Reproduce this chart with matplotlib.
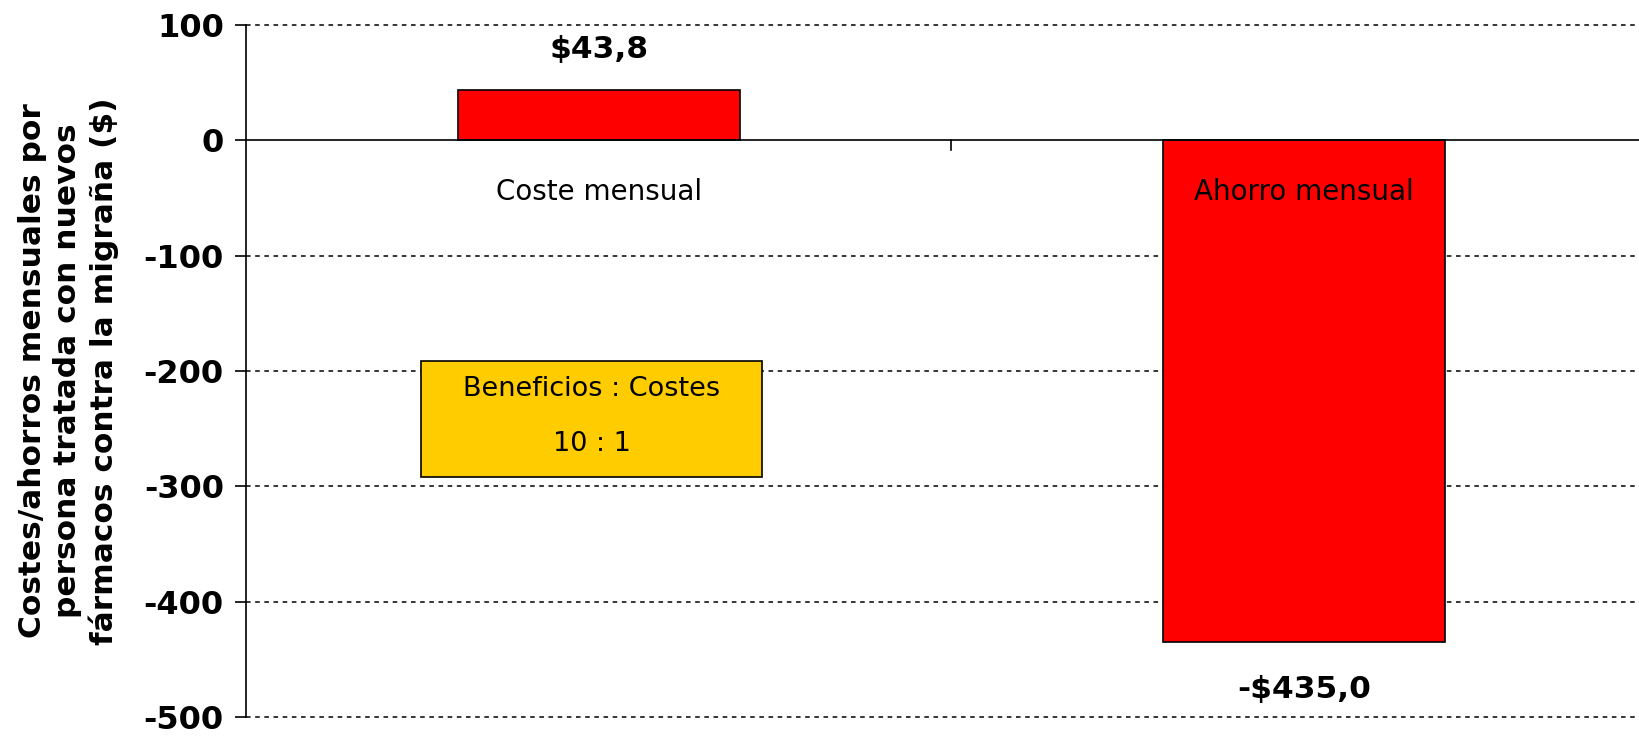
import matplotlib.pyplot as plt
from matplotlib.patches import Rectangle

# datos
categorias = ['Coste mensual', 'Ahorro mensual']
valores = [43.8, -435.0]
ticks_y = [100, 0, -100, -200, -300, -400, -500]
ratio_titulo = 'Beneficios : Costes'
ratio_valor = '10 : 1'

plt.rcParams['font.family'] = ['DejaVu Sans']

fig = plt.figure(figsize=(16.4, 7.37), dpi=100)
# el eje se sale un poco por la derecha, como en el original
ax = fig.add_axes([246 / 1640, 20 / 737, (1657 - 246) / 1640, (717 - 25) / 737])

x = range(len(valores))
ax.bar(x, valores, width=0.4, color='#ff0000', edgecolor='black', linewidth=1.2, zorder=3)

ax.set_xlim(-0.5, 1.5)
ax.set_ylim(-500, 100)
ax.set_yticks(ticks_y)
ax.set_yticklabels([str(t) for t in ticks_y], fontsize=23, fontweight='bold')
ax.tick_params(axis='y', direction='out', length=8, width=1.2, pad=8)

# rejilla punteada, linea solida en 0
for t in ticks_y:
    if t != 0:
        ax.axhline(t, color='black', linestyle=(0, (3, 3)), linewidth=1.1, zorder=1, clip_on=False)

for s in ['top', 'right', 'bottom']:
    ax.spines[s].set_visible(False)
ax.spines['left'].set_linewidth(1.2)
ax.axhline(0, color='black', linewidth=1.2, zorder=4)

# tick de separacion entre categorias
ax.set_xticks([0.5])
ax.set_xticklabels([''])
ax.tick_params(axis='x', length=0)
ax.plot([0.5, 0.5], [0, -8], color='black', linewidth=1.2, clip_on=False, zorder=4)

# etiquetas de categoria
for i, c in enumerate(categorias):
    ax.text(i, -45, c, ha='center', va='center', fontsize=20, zorder=5)

# valores
for i, v in enumerate(valores):
    txt = ('-$' if v < 0 else '$') + f'{abs(v):.1f}'.replace('.', ',')
    off = 29 if v > 0 else -34
    ax.annotate(txt, (i, v), xytext=(0, off), textcoords='offset points',
                ha='center', va='center', fontsize=22.5, fontweight='bold')

# recuadro beneficio : coste
ax.add_patch(Rectangle((-0.252, -292), 0.484, 101, facecolor='#ffcc00',
                       edgecolor='black', linewidth=1.2, zorder=5))
ax.text(-0.01, -216, ratio_titulo, ha='center', va='center', fontsize=19.5, zorder=6)
ax.text(-0.01, -263, ratio_valor, ha='center', va='center', fontsize=19.5, zorder=6)

ax.set_ylabel('Costes/ahorros mensuales por\npersona tratada con nuevos\nfármacos contra la migraña ($)',
              fontsize=22.5, fontweight='bold', linespacing=1.25, labelpad=18)

fig.savefig('out.png', dpi=100)
